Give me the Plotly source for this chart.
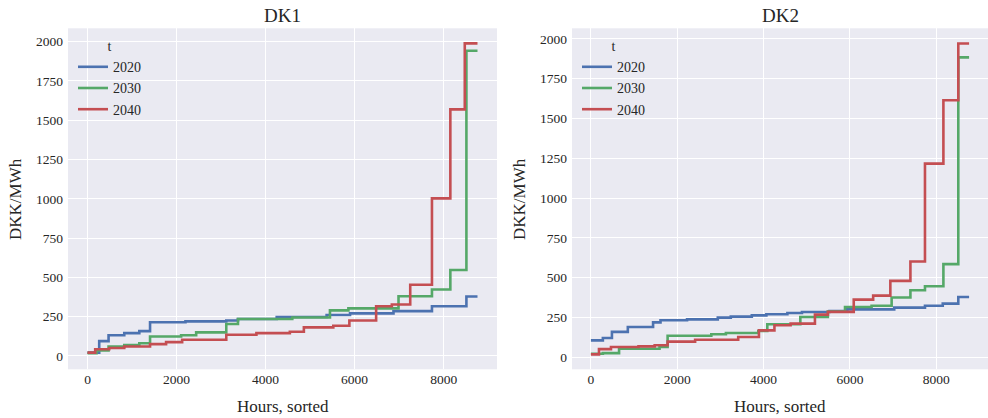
import plotly.graph_objects as go

years = ["2020", "2030", "2040"]
colors = {"2020": "#4C72B0", "2030": "#55A868", "2040": "#C44E52"}

# DK1 sorted price duration curves (hour index where a new price level starts, price DKK/MWh)
dk1_2020_hours = [0, 263, 473, 826, 1164, 1405, 2200, 3117, 3380, 4250, 5371, 5897, 6873, 7737, 8511, 8760]
dk1_2020_price = [21, 94, 132, 145, 158, 214, 220, 226, 235, 248, 261, 271, 285, 316, 378, 378]

dk1_2030_hours = [0, 203, 473, 826, 1164, 1405, 2103, 2441, 3117, 3380, 4600, 5446, 5860, 6986, 7737, 8150, 8511, 8760]
dk1_2030_price = [18, 35, 60, 70, 81, 124, 132, 150, 203, 235, 245, 290, 303, 380, 423, 547, 1942, 1942]

dk1_2040_hours = [0, 173, 488, 826, 1405, 1765, 2126, 3117, 3794, 4545, 4860, 5521, 5882, 6483, 6836, 7249, 7737, 8150, 8474, 8760]
dk1_2040_price = [21, 43, 51, 60, 75, 88, 103, 135, 145, 154, 182, 192, 226, 316, 327, 453, 1003, 1569, 1989, 1989]

# DK2
dk2_2020_hours = [0, 277, 487, 855, 1440, 1612, 2227, 2939, 3240, 3727, 4064, 4551, 4889, 5526, 5938, 7026, 7738, 8150, 8510, 8760]
dk2_2020_price = [105, 120, 158, 189, 218, 231, 237, 248, 254, 262, 269, 277, 283, 290, 300, 311, 323, 336, 378, 378]

dk2_2030_hours = [0, 277, 652, 1590, 1777, 2789, 3127, 3877, 4086, 4851, 5489, 5886, 6501, 6966, 7401, 7738, 8165, 8510, 8760]
dk2_2030_price = [21, 25, 52, 63, 134, 143, 151, 164, 206, 252, 286, 315, 323, 374, 420, 445, 584, 1884, 1884]

dk2_2040_hours = [0, 187, 465, 1102, 1477, 1777, 2414, 3412, 3892, 4251, 4626, 5189, 5489, 6088, 6538, 6936, 7401, 7738, 8165, 8510, 8760]
dk2_2040_price = [17, 50, 63, 67, 74, 97, 109, 126, 168, 200, 210, 267, 284, 361, 386, 479, 601, 1216, 1615, 1971, 1971]

panels = {
    "DK1": {"2020": (dk1_2020_hours, dk1_2020_price),
            "2030": (dk1_2030_hours, dk1_2030_price),
            "2040": (dk1_2040_hours, dk1_2040_price)},
    "DK2": {"2020": (dk2_2020_hours, dk2_2020_price),
            "2030": (dk2_2030_hours, dk2_2030_price),
            "2040": (dk2_2040_hours, dk2_2040_price)},
}

x_ticks = [0, 2000, 4000, 6000, 8000]
y_ticks = [0, 250, 500, 750, 1000, 1250, 1500, 1750, 2000]

W, H = 988, 418
FONT = "Liberation Serif"
TXT = "#262626"

fig = go.Figure()

doms_x = [(68 / W, 497 / W), (572 / W, 988 / W)]
dom_y = ((418 - 369.3) / H, (418 - 28.3) / H)
y_ranges = [(-85, 2085), (-77, 2067)]

for i, (name, series) in enumerate(panels.items()):
    xa = "x" if i == 0 else "x2"
    ya = "y" if i == 0 else "y2"
    leg = "legend" if i == 0 else "legend2"
    for yr in years:
        hrs, pr = series[yr]
        fig.add_trace(go.Scatter(
            x=hrs, y=pr, mode="lines", name=yr,
            line=dict(color=colors[yr], width=2.6, shape="hv"),
            xaxis=xa, yaxis=ya, legend=leg, hoverinfo="skip",
        ))

axis_common = dict(
    showgrid=True, gridcolor="white", gridwidth=1.1, zeroline=False,
    showline=False, ticks="", tickfont=dict(family=FONT, size=13.5, color=TXT),
    automargin=False,
)

fig.update_layout(
    width=W, height=H,
    margin=dict(l=0, r=0, t=0, b=0),
    paper_bgcolor="white", plot_bgcolor="#EAEAF2",
    showlegend=True,
    xaxis=dict(domain=doms_x[0], anchor="y", range=[-438, 9198], tickvals=x_ticks, **axis_common),
    yaxis=dict(domain=dom_y, anchor="x", range=list(y_ranges[0]), tickvals=y_ticks, ticklabelstandoff=4, **axis_common),
    xaxis2=dict(domain=doms_x[1], anchor="y2", range=[-438, 9198], tickvals=x_ticks, **axis_common),
    yaxis2=dict(domain=dom_y, anchor="x2", range=list(y_ranges[1]), tickvals=y_ticks, ticklabelstandoff=4, **axis_common),
)

leg_common = dict(
    bgcolor="rgba(0,0,0,0)", borderwidth=0,
    font=dict(family=FONT, size=14, color=TXT),
    title=dict(text="t", side="top center", font=dict(family=FONT, size=14, color=TXT)),
    xanchor="left", yanchor="top", tracegroupgap=0, itemwidth=30,
)
fig.update_layout(
    legend=dict(x=73 / W, y=(H - 33) / H, **leg_common),
    legend2=dict(x=577 / W, y=(H - 33) / H, **leg_common),
)

ann = []
for i, name in enumerate(panels):
    cx = (doms_x[i][0] + doms_x[i][1]) / 2
    ann.append(dict(text=name, x=cx, y=(H - 15) / H, xref="paper", yref="paper",
                    showarrow=False, font=dict(family=FONT, size=19, color=TXT),
                    xanchor="center", yanchor="middle"))
    ann.append(dict(text="Hours, sorted", x=cx, y=(H - 406) / H, xref="paper", yref="paper",
                    showarrow=False, font=dict(family=FONT, size=17, color=TXT),
                    xanchor="center", yanchor="middle"))
    lx = 15 if i == 0 else 519
    ann.append(dict(text="DKK/MWh", x=lx / W, y=(H - 199) / H, xref="paper", yref="paper",
                    showarrow=False, textangle=-90, font=dict(family=FONT, size=17, color=TXT),
                    xanchor="center", yanchor="middle"))
fig.update_layout(annotations=ann)

fig.write_html(
    "out.html",
    config={"displayModeBar": False},
    post_script="document.body.style.margin='0';document.body.style.padding='0';",
)
